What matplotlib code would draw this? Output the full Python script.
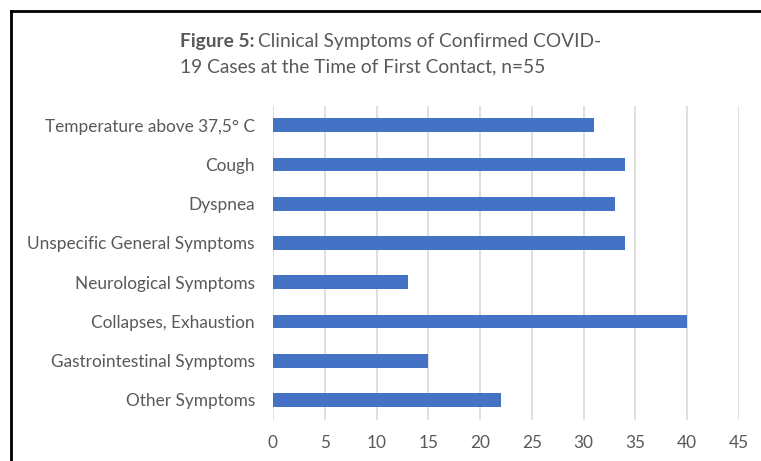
import matplotlib
matplotlib.use("Agg")
import matplotlib.pyplot as plt
from matplotlib.lines import Line2D

categories = [
    "Temperature above 37,5° C",
    "Cough",
    "Dyspnea",
    "Unspecific General Symptoms",
    "Neurological Symptoms",
    "Collapses, Exhaustion",
    "Gastrointestinal Symptoms",
    "Other Symptoms",
]
counts = [31, 34, 33, 34, 13, 40, 15, 22]
x_ticks = [0, 5, 10, 15, 20, 25, 30, 35, 40, 45]

FONT = "Lato"
GREY = "#595959"
TITLE_SIZE = 13.8

fig = plt.figure(figsize=(7.61, 4.61), dpi=100)
ax = fig.add_axes([0.3587, 0.0898, 0.6124, 0.6813])

ypos = list(range(len(categories)))
ax.barh(ypos, counts, height=0.35, color="#4472C4", zorder=3)
ax.set_ylim(len(categories) - 0.5, -0.5)
ax.set_xlim(0, 45)
ax.set_xticks(x_ticks)
ax.set_yticks(ypos)
ax.set_yticklabels(categories, fontfamily=FONT, fontsize=12.4, color=GREY)
ax.set_xticklabels([str(t) for t in x_ticks], fontfamily=FONT, fontsize=12.4, color=GREY)
ax.tick_params(axis="both", length=0)
ax.tick_params(axis="y", pad=13)
ax.tick_params(axis="x", pad=11)
ax.grid(axis="x", color="#d9d9d9", linewidth=1.2, zorder=0)
for s in ax.spines.values():
    s.set_visible(False)

# title: bold "Figure 5:" then regular text, second line left aligned
t = fig.text(180 / 761, 1 - 42 / 461, "Figure 5:", fontfamily=FONT, fontsize=TITLE_SIZE,
             color=GREY, fontweight="bold", va="center", ha="left")
fig.canvas.draw()
bb = t.get_window_extent()
fig.text((bb.x1 + 4) / 761, 1 - 42 / 461, "Clinical Symptoms of Confirmed COVID-",
         fontfamily=FONT, fontsize=TITLE_SIZE, color=GREY, va="center", ha="left")
fig.text(180 / 761, 1 - 67 / 461, "19 Cases at the Time of First Contact, n=55",
         fontfamily=FONT, fontsize=TITLE_SIZE, color=GREY, va="center", ha="left")

# frame lines (left and top)
fig.add_artist(Line2D([11 / 761, 11 / 761], [0, 1 - 11 / 461], transform=fig.transFigure,
                      color="black", linewidth=2))
fig.add_artist(Line2D([11 / 761, 1], [1 - 11 / 461, 1 - 11 / 461], transform=fig.transFigure,
                      color="black", linewidth=2))

fig.savefig("out.png", dpi=100)
